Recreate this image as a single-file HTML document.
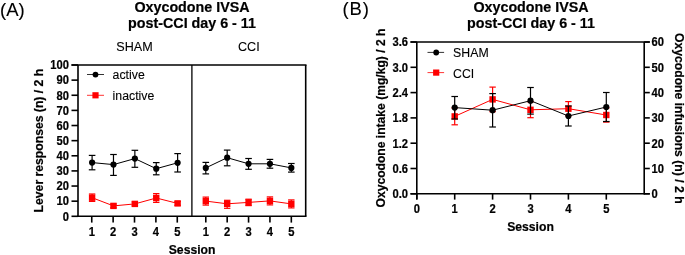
<!DOCTYPE html>
<html><head><meta charset="utf-8"><style>
html,body{margin:0;padding:0;background:#fff;width:685px;height:255px;overflow:hidden}
svg{display:block;will-change:transform}
text{font-family:"Liberation Sans", sans-serif;fill:#000}
</style></head><body>
<svg width="685" height="255" viewBox="0 0 685 255">
<rect width="685" height="255" fill="#fff"/>
<text transform="translate(0.00,15.70)" font-size="18.5" font-weight="normal" text-anchor="start" stroke="#000" stroke-width="0.1" >(A)</text>
<text transform="translate(192.00,11.95)" font-size="14.3" font-weight="bold" text-anchor="middle" stroke="#000" stroke-width="0.2" >Oxycodone IVSA</text>
<text transform="translate(192.00,28.30)" font-size="14.3" font-weight="bold" text-anchor="middle" stroke="#000" stroke-width="0.2" >post-CCI day 6 - 11</text>
<text transform="translate(134.50,51.20)" font-size="12.6" font-weight="normal" text-anchor="middle" stroke="#000" stroke-width="0.1" >SHAM</text>
<text transform="translate(248.80,51.20)" font-size="12.6" font-weight="normal" text-anchor="middle" stroke="#000" stroke-width="0.1" >CCI</text>
<line x1="71.5" y1="65" x2="306.5" y2="65" stroke="#000" stroke-width="1.6"/>
<line x1="78" y1="65" x2="78" y2="217.10000000000002" stroke="#000" stroke-width="1.6"/>
<line x1="305.7" y1="65" x2="305.7" y2="216.3" stroke="#000" stroke-width="1.6"/>
<line x1="77.2" y1="216.3" x2="306.5" y2="216.3" stroke="#000" stroke-width="1.6"/>
<line x1="191.9" y1="65" x2="191.9" y2="216.3" stroke="#000" stroke-width="1.3"/>
<line x1="71.5" y1="216.3" x2="78" y2="216.3" stroke="#000" stroke-width="1.6"/>
<text transform="translate(69.00,220.60) scale(1,1.08)" font-size="11.2" font-weight="bold" text-anchor="end" stroke="#000" stroke-width="0.2" >0</text>
<line x1="71.5" y1="201.17000000000002" x2="78" y2="201.17000000000002" stroke="#000" stroke-width="1.6"/>
<text transform="translate(69.00,205.47) scale(1,1.08)" font-size="11.2" font-weight="bold" text-anchor="end" stroke="#000" stroke-width="0.2" >10</text>
<line x1="71.5" y1="186.04000000000002" x2="78" y2="186.04000000000002" stroke="#000" stroke-width="1.6"/>
<text transform="translate(69.00,190.34) scale(1,1.08)" font-size="11.2" font-weight="bold" text-anchor="end" stroke="#000" stroke-width="0.2" >20</text>
<line x1="71.5" y1="170.91000000000003" x2="78" y2="170.91000000000003" stroke="#000" stroke-width="1.6"/>
<text transform="translate(69.00,175.21) scale(1,1.08)" font-size="11.2" font-weight="bold" text-anchor="end" stroke="#000" stroke-width="0.2" >30</text>
<line x1="71.5" y1="155.78" x2="78" y2="155.78" stroke="#000" stroke-width="1.6"/>
<text transform="translate(69.00,160.08) scale(1,1.08)" font-size="11.2" font-weight="bold" text-anchor="end" stroke="#000" stroke-width="0.2" >40</text>
<line x1="71.5" y1="140.65" x2="78" y2="140.65" stroke="#000" stroke-width="1.6"/>
<text transform="translate(69.00,144.95) scale(1,1.08)" font-size="11.2" font-weight="bold" text-anchor="end" stroke="#000" stroke-width="0.2" >50</text>
<line x1="71.5" y1="125.52000000000001" x2="78" y2="125.52000000000001" stroke="#000" stroke-width="1.6"/>
<text transform="translate(69.00,129.82) scale(1,1.08)" font-size="11.2" font-weight="bold" text-anchor="end" stroke="#000" stroke-width="0.2" >60</text>
<line x1="71.5" y1="110.39000000000001" x2="78" y2="110.39000000000001" stroke="#000" stroke-width="1.6"/>
<text transform="translate(69.00,114.69) scale(1,1.08)" font-size="11.2" font-weight="bold" text-anchor="end" stroke="#000" stroke-width="0.2" >70</text>
<line x1="71.5" y1="95.26" x2="78" y2="95.26" stroke="#000" stroke-width="1.6"/>
<text transform="translate(69.00,99.56) scale(1,1.08)" font-size="11.2" font-weight="bold" text-anchor="end" stroke="#000" stroke-width="0.2" >80</text>
<line x1="71.5" y1="80.13" x2="78" y2="80.13" stroke="#000" stroke-width="1.6"/>
<text transform="translate(69.00,84.43) scale(1,1.08)" font-size="11.2" font-weight="bold" text-anchor="end" stroke="#000" stroke-width="0.2" >90</text>
<line x1="71.5" y1="65.0" x2="78" y2="65.0" stroke="#000" stroke-width="1.6"/>
<text transform="translate(69.00,69.30) scale(1,1.08)" font-size="11.2" font-weight="bold" text-anchor="end" stroke="#000" stroke-width="0.2" >100</text>
<line x1="91.75" y1="216.3" x2="91.75" y2="222.60000000000002" stroke="#000" stroke-width="1.6"/>
<text transform="translate(91.75,236.00) scale(1,1.08)" font-size="11.2" font-weight="bold" text-anchor="middle" stroke="#000" stroke-width="0.2" >1</text>
<line x1="113.13" y1="216.3" x2="113.13" y2="222.60000000000002" stroke="#000" stroke-width="1.6"/>
<text transform="translate(113.13,236.00) scale(1,1.08)" font-size="11.2" font-weight="bold" text-anchor="middle" stroke="#000" stroke-width="0.2" >2</text>
<line x1="134.51" y1="216.3" x2="134.51" y2="222.60000000000002" stroke="#000" stroke-width="1.6"/>
<text transform="translate(134.51,236.00) scale(1,1.08)" font-size="11.2" font-weight="bold" text-anchor="middle" stroke="#000" stroke-width="0.2" >3</text>
<line x1="155.89" y1="216.3" x2="155.89" y2="222.60000000000002" stroke="#000" stroke-width="1.6"/>
<text transform="translate(155.89,236.00) scale(1,1.08)" font-size="11.2" font-weight="bold" text-anchor="middle" stroke="#000" stroke-width="0.2" >4</text>
<line x1="177.26999999999998" y1="216.3" x2="177.26999999999998" y2="222.60000000000002" stroke="#000" stroke-width="1.6"/>
<text transform="translate(177.27,236.00) scale(1,1.08)" font-size="11.2" font-weight="bold" text-anchor="middle" stroke="#000" stroke-width="0.2" >5</text>
<line x1="205.8" y1="216.3" x2="205.8" y2="222.60000000000002" stroke="#000" stroke-width="1.6"/>
<text transform="translate(205.80,236.00) scale(1,1.08)" font-size="11.2" font-weight="bold" text-anchor="middle" stroke="#000" stroke-width="0.2" >1</text>
<line x1="227.18" y1="216.3" x2="227.18" y2="222.60000000000002" stroke="#000" stroke-width="1.6"/>
<text transform="translate(227.18,236.00) scale(1,1.08)" font-size="11.2" font-weight="bold" text-anchor="middle" stroke="#000" stroke-width="0.2" >2</text>
<line x1="248.56" y1="216.3" x2="248.56" y2="222.60000000000002" stroke="#000" stroke-width="1.6"/>
<text transform="translate(248.56,236.00) scale(1,1.08)" font-size="11.2" font-weight="bold" text-anchor="middle" stroke="#000" stroke-width="0.2" >3</text>
<line x1="269.94" y1="216.3" x2="269.94" y2="222.60000000000002" stroke="#000" stroke-width="1.6"/>
<text transform="translate(269.94,236.00) scale(1,1.08)" font-size="11.2" font-weight="bold" text-anchor="middle" stroke="#000" stroke-width="0.2" >4</text>
<line x1="291.32" y1="216.3" x2="291.32" y2="222.60000000000002" stroke="#000" stroke-width="1.6"/>
<text transform="translate(291.32,236.00) scale(1,1.08)" font-size="11.2" font-weight="bold" text-anchor="middle" stroke="#000" stroke-width="0.2" >5</text>
<text transform="translate(192.10,253.50)" font-size="12.2" font-weight="bold" text-anchor="middle" stroke="#000" stroke-width="0.2" >Session</text>
<text transform="translate(42.9,140.6) rotate(-90)" x="0" y="0" font-size="12.2" font-weight="bold" stroke="#000" stroke-width="0.2" text-anchor="middle">Lever responses (n) / 2 h</text>
<line x1="87" y1="74.5" x2="104" y2="74.5" stroke="#000" stroke-width="0.8"/>
<circle cx="95.5" cy="74.6" r="2.9" fill="#000"/>
<text transform="translate(112.60,79.00)" font-size="12.3" font-weight="normal" text-anchor="start" stroke="#000" stroke-width="0.1" >active</text>
<line x1="87" y1="95.3" x2="104" y2="95.3" stroke="#f00" stroke-width="0.8"/>
<rect x="92.4" y="92.2" width="6.2" height="6.2" fill="#f00"/>
<text transform="translate(112.60,100.30)" font-size="12.3" font-weight="normal" text-anchor="start" stroke="#000" stroke-width="0.1" >inactive</text>
<polyline points="92.1,162.6 113.47999999999999,164.6 134.85999999999999,158.6 156.23999999999998,168.7 177.61999999999998,162.8" fill="none" stroke="#000" stroke-width="1.0"/>
<line x1="92.1" y1="155.4" x2="92.1" y2="169.8" stroke="#000" stroke-width="1.2"/>
<line x1="88.8" y1="155.4" x2="95.39999999999999" y2="155.4" stroke="#000" stroke-width="1.2"/>
<line x1="88.8" y1="169.8" x2="95.39999999999999" y2="169.8" stroke="#000" stroke-width="1.2"/>
<line x1="113.47999999999999" y1="154.5" x2="113.47999999999999" y2="175.4" stroke="#000" stroke-width="1.2"/>
<line x1="110.17999999999999" y1="154.5" x2="116.77999999999999" y2="154.5" stroke="#000" stroke-width="1.2"/>
<line x1="110.17999999999999" y1="175.4" x2="116.77999999999999" y2="175.4" stroke="#000" stroke-width="1.2"/>
<line x1="134.85999999999999" y1="150.3" x2="134.85999999999999" y2="167.3" stroke="#000" stroke-width="1.2"/>
<line x1="131.55999999999997" y1="150.3" x2="138.16" y2="150.3" stroke="#000" stroke-width="1.2"/>
<line x1="131.55999999999997" y1="167.3" x2="138.16" y2="167.3" stroke="#000" stroke-width="1.2"/>
<line x1="156.23999999999998" y1="162.6" x2="156.23999999999998" y2="174.8" stroke="#000" stroke-width="1.2"/>
<line x1="152.93999999999997" y1="162.6" x2="159.54" y2="162.6" stroke="#000" stroke-width="1.2"/>
<line x1="152.93999999999997" y1="174.8" x2="159.54" y2="174.8" stroke="#000" stroke-width="1.2"/>
<line x1="177.61999999999998" y1="153.6" x2="177.61999999999998" y2="172" stroke="#000" stroke-width="1.2"/>
<line x1="174.31999999999996" y1="153.6" x2="180.92" y2="153.6" stroke="#000" stroke-width="1.2"/>
<line x1="174.31999999999996" y1="172" x2="180.92" y2="172" stroke="#000" stroke-width="1.2"/>
<circle cx="92.1" cy="162.6" r="3.1" fill="#000"/>
<circle cx="113.47999999999999" cy="164.6" r="3.1" fill="#000"/>
<circle cx="134.85999999999999" cy="158.6" r="3.1" fill="#000"/>
<circle cx="156.23999999999998" cy="168.7" r="3.1" fill="#000"/>
<circle cx="177.61999999999998" cy="162.8" r="3.1" fill="#000"/>
<polyline points="92.1,197.7 113.47999999999999,205.9 134.85999999999999,203.9 156.23999999999998,198.0 177.61999999999998,203.4" fill="none" stroke="#f00" stroke-width="1.0"/>
<line x1="92.1" y1="194.0" x2="92.1" y2="201.4" stroke="#f00" stroke-width="1.2"/>
<line x1="88.89999999999999" y1="194.0" x2="95.3" y2="194.0" stroke="#f00" stroke-width="1.2"/>
<line x1="88.89999999999999" y1="201.4" x2="95.3" y2="201.4" stroke="#f00" stroke-width="1.2"/>
<line x1="113.47999999999999" y1="204.0" x2="113.47999999999999" y2="207.8" stroke="#f00" stroke-width="1.2"/>
<line x1="110.27999999999999" y1="204.0" x2="116.67999999999999" y2="204.0" stroke="#f00" stroke-width="1.2"/>
<line x1="110.27999999999999" y1="207.8" x2="116.67999999999999" y2="207.8" stroke="#f00" stroke-width="1.2"/>
<line x1="134.85999999999999" y1="202.0" x2="134.85999999999999" y2="205.8" stroke="#f00" stroke-width="1.2"/>
<line x1="131.66" y1="202.0" x2="138.05999999999997" y2="202.0" stroke="#f00" stroke-width="1.2"/>
<line x1="131.66" y1="205.8" x2="138.05999999999997" y2="205.8" stroke="#f00" stroke-width="1.2"/>
<line x1="156.23999999999998" y1="193.6" x2="156.23999999999998" y2="202.4" stroke="#f00" stroke-width="1.2"/>
<line x1="153.04" y1="193.6" x2="159.43999999999997" y2="193.6" stroke="#f00" stroke-width="1.2"/>
<line x1="153.04" y1="202.4" x2="159.43999999999997" y2="202.4" stroke="#f00" stroke-width="1.2"/>
<line x1="177.61999999999998" y1="201.5" x2="177.61999999999998" y2="205.3" stroke="#f00" stroke-width="1.2"/>
<line x1="174.42" y1="201.5" x2="180.81999999999996" y2="201.5" stroke="#f00" stroke-width="1.2"/>
<line x1="174.42" y1="205.3" x2="180.81999999999996" y2="205.3" stroke="#f00" stroke-width="1.2"/>
<rect x="88.89999999999999" y="194.5" width="6.4" height="6.4" fill="#f00"/>
<rect x="110.27999999999999" y="202.70000000000002" width="6.4" height="6.4" fill="#f00"/>
<rect x="131.66" y="200.70000000000002" width="6.4" height="6.4" fill="#f00"/>
<rect x="153.04" y="194.8" width="6.4" height="6.4" fill="#f00"/>
<rect x="174.42" y="200.20000000000002" width="6.4" height="6.4" fill="#f00"/>
<polyline points="205.8,167.9 227.18,157.7 248.56,163.8 269.94,163.8 291.32,167.9" fill="none" stroke="#000" stroke-width="1.0"/>
<line x1="205.8" y1="162.4" x2="205.8" y2="173.9" stroke="#000" stroke-width="1.2"/>
<line x1="202.5" y1="162.4" x2="209.10000000000002" y2="162.4" stroke="#000" stroke-width="1.2"/>
<line x1="202.5" y1="173.9" x2="209.10000000000002" y2="173.9" stroke="#000" stroke-width="1.2"/>
<line x1="227.18" y1="150.1" x2="227.18" y2="165.8" stroke="#000" stroke-width="1.2"/>
<line x1="223.88" y1="150.1" x2="230.48000000000002" y2="150.1" stroke="#000" stroke-width="1.2"/>
<line x1="223.88" y1="165.8" x2="230.48000000000002" y2="165.8" stroke="#000" stroke-width="1.2"/>
<line x1="248.56" y1="158.5" x2="248.56" y2="169.3" stroke="#000" stroke-width="1.2"/>
<line x1="245.26" y1="158.5" x2="251.86" y2="158.5" stroke="#000" stroke-width="1.2"/>
<line x1="245.26" y1="169.3" x2="251.86" y2="169.3" stroke="#000" stroke-width="1.2"/>
<line x1="269.94" y1="159.4" x2="269.94" y2="168.2" stroke="#000" stroke-width="1.2"/>
<line x1="266.64" y1="159.4" x2="273.24" y2="159.4" stroke="#000" stroke-width="1.2"/>
<line x1="266.64" y1="168.2" x2="273.24" y2="168.2" stroke="#000" stroke-width="1.2"/>
<line x1="291.32" y1="163.5" x2="291.32" y2="172.1" stroke="#000" stroke-width="1.2"/>
<line x1="288.02" y1="163.5" x2="294.62" y2="163.5" stroke="#000" stroke-width="1.2"/>
<line x1="288.02" y1="172.1" x2="294.62" y2="172.1" stroke="#000" stroke-width="1.2"/>
<circle cx="205.8" cy="167.9" r="3.1" fill="#000"/>
<circle cx="227.18" cy="157.7" r="3.1" fill="#000"/>
<circle cx="248.56" cy="163.8" r="3.1" fill="#000"/>
<circle cx="269.94" cy="163.8" r="3.1" fill="#000"/>
<circle cx="291.32" cy="167.9" r="3.1" fill="#000"/>
<polyline points="205.8,201.1 227.18,203.8 248.56,202.4 269.94,200.9 291.32,203.9" fill="none" stroke="#f00" stroke-width="1.0"/>
<line x1="205.8" y1="197.1" x2="205.8" y2="205.1" stroke="#f00" stroke-width="1.2"/>
<line x1="202.60000000000002" y1="197.1" x2="209.0" y2="197.1" stroke="#f00" stroke-width="1.2"/>
<line x1="202.60000000000002" y1="205.1" x2="209.0" y2="205.1" stroke="#f00" stroke-width="1.2"/>
<line x1="227.18" y1="200.3" x2="227.18" y2="208.3" stroke="#f00" stroke-width="1.2"/>
<line x1="223.98000000000002" y1="200.3" x2="230.38" y2="200.3" stroke="#f00" stroke-width="1.2"/>
<line x1="223.98000000000002" y1="208.3" x2="230.38" y2="208.3" stroke="#f00" stroke-width="1.2"/>
<line x1="248.56" y1="199.2" x2="248.56" y2="205.6" stroke="#f00" stroke-width="1.2"/>
<line x1="245.36" y1="199.2" x2="251.76" y2="199.2" stroke="#f00" stroke-width="1.2"/>
<line x1="245.36" y1="205.6" x2="251.76" y2="205.6" stroke="#f00" stroke-width="1.2"/>
<line x1="269.94" y1="196.9" x2="269.94" y2="204.9" stroke="#f00" stroke-width="1.2"/>
<line x1="266.74" y1="196.9" x2="273.14" y2="196.9" stroke="#f00" stroke-width="1.2"/>
<line x1="266.74" y1="204.9" x2="273.14" y2="204.9" stroke="#f00" stroke-width="1.2"/>
<line x1="291.32" y1="199.9" x2="291.32" y2="207.9" stroke="#f00" stroke-width="1.2"/>
<line x1="288.12" y1="199.9" x2="294.52" y2="199.9" stroke="#f00" stroke-width="1.2"/>
<line x1="288.12" y1="207.9" x2="294.52" y2="207.9" stroke="#f00" stroke-width="1.2"/>
<rect x="202.60000000000002" y="197.9" width="6.4" height="6.4" fill="#f00"/>
<rect x="223.98000000000002" y="200.60000000000002" width="6.4" height="6.4" fill="#f00"/>
<rect x="245.36" y="199.20000000000002" width="6.4" height="6.4" fill="#f00"/>
<rect x="266.74" y="197.70000000000002" width="6.4" height="6.4" fill="#f00"/>
<rect x="288.12" y="200.70000000000002" width="6.4" height="6.4" fill="#f00"/>
<text transform="translate(342.60,15.20)" font-size="18.5" font-weight="normal" text-anchor="start" stroke="#000" stroke-width="0.1" letter-spacing="0.8">(B)</text>
<text transform="translate(531.00,11.95)" font-size="14.3" font-weight="bold" text-anchor="middle" stroke="#000" stroke-width="0.2" >Oxycodone IVSA</text>
<text transform="translate(531.00,28.30)" font-size="14.3" font-weight="bold" text-anchor="middle" stroke="#000" stroke-width="0.2" >post-CCI day 6 - 11</text>
<line x1="410.5" y1="42" x2="649.8000000000001" y2="42" stroke="#000" stroke-width="1.6"/>
<line x1="416.8" y1="42" x2="416.8" y2="199.60000000000002" stroke="#000" stroke-width="1.6"/>
<line x1="644.2" y1="42" x2="644.2" y2="194.60000000000002" stroke="#000" stroke-width="1.6"/>
<line x1="410.5" y1="193.8" x2="649.8000000000001" y2="193.8" stroke="#000" stroke-width="1.6"/>
<line x1="410.5" y1="193.8" x2="416.8" y2="193.8" stroke="#000" stroke-width="1.6"/>
<line x1="644.2" y1="193.8" x2="649.8000000000001" y2="193.8" stroke="#000" stroke-width="1.6"/>
<text transform="translate(408.10,198.20) scale(1,1.08)" font-size="11.2" font-weight="bold" text-anchor="end" stroke="#000" stroke-width="0.2" >0.0</text>
<text transform="translate(651.60,198.10) scale(1,1.08)" font-size="11.2" font-weight="bold" text-anchor="start" stroke="#000" stroke-width="0.2" >0</text>
<line x1="410.5" y1="168.5" x2="416.8" y2="168.5" stroke="#000" stroke-width="1.6"/>
<line x1="644.2" y1="168.5" x2="649.8000000000001" y2="168.5" stroke="#000" stroke-width="1.6"/>
<text transform="translate(408.10,172.90) scale(1,1.08)" font-size="11.2" font-weight="bold" text-anchor="end" stroke="#000" stroke-width="0.2" >0.6</text>
<text transform="translate(651.60,172.80) scale(1,1.08)" font-size="11.2" font-weight="bold" text-anchor="start" stroke="#000" stroke-width="0.2" >10</text>
<line x1="410.5" y1="143.20000000000002" x2="416.8" y2="143.20000000000002" stroke="#000" stroke-width="1.6"/>
<line x1="644.2" y1="143.20000000000002" x2="649.8000000000001" y2="143.20000000000002" stroke="#000" stroke-width="1.6"/>
<text transform="translate(408.10,147.60) scale(1,1.08)" font-size="11.2" font-weight="bold" text-anchor="end" stroke="#000" stroke-width="0.2" >1.2</text>
<text transform="translate(651.60,147.50) scale(1,1.08)" font-size="11.2" font-weight="bold" text-anchor="start" stroke="#000" stroke-width="0.2" >20</text>
<line x1="410.5" y1="117.9" x2="416.8" y2="117.9" stroke="#000" stroke-width="1.6"/>
<line x1="644.2" y1="117.9" x2="649.8000000000001" y2="117.9" stroke="#000" stroke-width="1.6"/>
<text transform="translate(408.10,122.30) scale(1,1.08)" font-size="11.2" font-weight="bold" text-anchor="end" stroke="#000" stroke-width="0.2" >1.8</text>
<text transform="translate(651.60,122.20) scale(1,1.08)" font-size="11.2" font-weight="bold" text-anchor="start" stroke="#000" stroke-width="0.2" >30</text>
<line x1="410.5" y1="92.60000000000001" x2="416.8" y2="92.60000000000001" stroke="#000" stroke-width="1.6"/>
<line x1="644.2" y1="92.60000000000001" x2="649.8000000000001" y2="92.60000000000001" stroke="#000" stroke-width="1.6"/>
<text transform="translate(408.10,97.00) scale(1,1.08)" font-size="11.2" font-weight="bold" text-anchor="end" stroke="#000" stroke-width="0.2" >2.4</text>
<text transform="translate(651.60,96.90) scale(1,1.08)" font-size="11.2" font-weight="bold" text-anchor="start" stroke="#000" stroke-width="0.2" >40</text>
<line x1="410.5" y1="67.30000000000001" x2="416.8" y2="67.30000000000001" stroke="#000" stroke-width="1.6"/>
<line x1="644.2" y1="67.30000000000001" x2="649.8000000000001" y2="67.30000000000001" stroke="#000" stroke-width="1.6"/>
<text transform="translate(408.10,71.70) scale(1,1.08)" font-size="11.2" font-weight="bold" text-anchor="end" stroke="#000" stroke-width="0.2" >3.0</text>
<text transform="translate(651.60,71.60) scale(1,1.08)" font-size="11.2" font-weight="bold" text-anchor="start" stroke="#000" stroke-width="0.2" >50</text>
<line x1="410.5" y1="42.0" x2="416.8" y2="42.0" stroke="#000" stroke-width="1.6"/>
<line x1="644.2" y1="42.0" x2="649.8000000000001" y2="42.0" stroke="#000" stroke-width="1.6"/>
<text transform="translate(408.10,46.40) scale(1,1.08)" font-size="11.2" font-weight="bold" text-anchor="end" stroke="#000" stroke-width="0.2" >3.6</text>
<text transform="translate(651.60,46.30) scale(1,1.08)" font-size="11.2" font-weight="bold" text-anchor="start" stroke="#000" stroke-width="0.2" >60</text>
<line x1="416.8" y1="193.8" x2="416.8" y2="199.60000000000002" stroke="#000" stroke-width="1.6"/>
<text transform="translate(416.80,213.00) scale(1,1.08)" font-size="11.2" font-weight="bold" text-anchor="middle" stroke="#000" stroke-width="0.2" >0</text>
<line x1="454.70000000000005" y1="193.8" x2="454.70000000000005" y2="199.60000000000002" stroke="#000" stroke-width="1.6"/>
<text transform="translate(454.70,213.00) scale(1,1.08)" font-size="11.2" font-weight="bold" text-anchor="middle" stroke="#000" stroke-width="0.2" >1</text>
<line x1="492.6" y1="193.8" x2="492.6" y2="199.60000000000002" stroke="#000" stroke-width="1.6"/>
<text transform="translate(492.60,213.00) scale(1,1.08)" font-size="11.2" font-weight="bold" text-anchor="middle" stroke="#000" stroke-width="0.2" >2</text>
<line x1="530.5" y1="193.8" x2="530.5" y2="199.60000000000002" stroke="#000" stroke-width="1.6"/>
<text transform="translate(530.50,213.00) scale(1,1.08)" font-size="11.2" font-weight="bold" text-anchor="middle" stroke="#000" stroke-width="0.2" >3</text>
<line x1="568.4000000000001" y1="193.8" x2="568.4000000000001" y2="199.60000000000002" stroke="#000" stroke-width="1.6"/>
<text transform="translate(568.40,213.00) scale(1,1.08)" font-size="11.2" font-weight="bold" text-anchor="middle" stroke="#000" stroke-width="0.2" >4</text>
<line x1="606.3000000000001" y1="193.8" x2="606.3000000000001" y2="199.60000000000002" stroke="#000" stroke-width="1.6"/>
<text transform="translate(606.30,213.00) scale(1,1.08)" font-size="11.2" font-weight="bold" text-anchor="middle" stroke="#000" stroke-width="0.2" >5</text>
<text transform="translate(530.50,231.00)" font-size="12.2" font-weight="bold" text-anchor="middle" stroke="#000" stroke-width="0.2" >Session</text>
<text transform="translate(385.1,118.0) rotate(-90)" x="0" y="0" font-size="12.1" font-weight="bold" stroke="#000" stroke-width="0.2" text-anchor="middle">Oxycodone intake (mg/kg) / 2 h</text>
<text transform="translate(674.6,118.25) rotate(90)" x="0" y="0" font-size="12.2" font-weight="bold" stroke="#000" stroke-width="0.2" text-anchor="middle">Oxycodone infusions (n) / 2 h</text>
<line x1="427.5" y1="52.4" x2="444.1" y2="52.4" stroke="#000" stroke-width="0.8"/>
<circle cx="436.2" cy="52.5" r="2.9" fill="#000"/>
<text transform="translate(453.10,57.40)" font-size="12.3" font-weight="normal" text-anchor="start" stroke="#000" stroke-width="0.1" >SHAM</text>
<line x1="427.5" y1="72.6" x2="444.1" y2="72.6" stroke="#f00" stroke-width="0.8"/>
<rect x="433.1" y="69.5" width="6.2" height="6.2" fill="#f00"/>
<text transform="translate(453.10,77.60)" font-size="12.3" font-weight="normal" text-anchor="start" stroke="#000" stroke-width="0.1" >CCI</text>
<polyline points="454.70000000000005,116.4 492.6,99.4 530.5,109.8 568.4000000000001,108.7 606.3000000000001,115" fill="none" stroke="#f00" stroke-width="1.0"/>
<line x1="454.70000000000005" y1="108.0" x2="454.70000000000005" y2="124.8" stroke="#f00" stroke-width="1.2"/>
<line x1="451.50000000000006" y1="108.0" x2="457.90000000000003" y2="108.0" stroke="#f00" stroke-width="1.2"/>
<line x1="451.50000000000006" y1="124.8" x2="457.90000000000003" y2="124.8" stroke="#f00" stroke-width="1.2"/>
<line x1="492.6" y1="87.1" x2="492.6" y2="111.7" stroke="#f00" stroke-width="1.2"/>
<line x1="489.40000000000003" y1="87.1" x2="495.8" y2="87.1" stroke="#f00" stroke-width="1.2"/>
<line x1="489.40000000000003" y1="111.7" x2="495.8" y2="111.7" stroke="#f00" stroke-width="1.2"/>
<line x1="530.5" y1="101.9" x2="530.5" y2="117.7" stroke="#f00" stroke-width="1.2"/>
<line x1="527.3" y1="101.9" x2="533.7" y2="101.9" stroke="#f00" stroke-width="1.2"/>
<line x1="527.3" y1="117.7" x2="533.7" y2="117.7" stroke="#f00" stroke-width="1.2"/>
<line x1="568.4000000000001" y1="101.6" x2="568.4000000000001" y2="115.8" stroke="#f00" stroke-width="1.2"/>
<line x1="565.2" y1="101.6" x2="571.6000000000001" y2="101.6" stroke="#f00" stroke-width="1.2"/>
<line x1="565.2" y1="115.8" x2="571.6000000000001" y2="115.8" stroke="#f00" stroke-width="1.2"/>
<line x1="606.3000000000001" y1="107.9" x2="606.3000000000001" y2="122.1" stroke="#f00" stroke-width="1.2"/>
<line x1="603.1" y1="107.9" x2="609.5000000000001" y2="107.9" stroke="#f00" stroke-width="1.2"/>
<line x1="603.1" y1="122.1" x2="609.5000000000001" y2="122.1" stroke="#f00" stroke-width="1.2"/>
<rect x="451.50000000000006" y="113.2" width="6.4" height="6.4" fill="#f00"/>
<rect x="489.40000000000003" y="96.2" width="6.4" height="6.4" fill="#f00"/>
<rect x="527.3" y="106.6" width="6.4" height="6.4" fill="#f00"/>
<rect x="565.2" y="105.5" width="6.4" height="6.4" fill="#f00"/>
<rect x="603.1" y="111.8" width="6.4" height="6.4" fill="#f00"/>
<polyline points="454.70000000000005,107.6 492.6,110.2 530.5,100.7 568.4000000000001,116 606.3000000000001,107" fill="none" stroke="#000" stroke-width="1.0"/>
<line x1="454.70000000000005" y1="96.5" x2="454.70000000000005" y2="119.0" stroke="#000" stroke-width="1.2"/>
<line x1="451.40000000000003" y1="96.5" x2="458.00000000000006" y2="96.5" stroke="#000" stroke-width="1.2"/>
<line x1="451.40000000000003" y1="119.0" x2="458.00000000000006" y2="119.0" stroke="#000" stroke-width="1.2"/>
<line x1="492.6" y1="93.6" x2="492.6" y2="127" stroke="#000" stroke-width="1.2"/>
<line x1="489.3" y1="93.6" x2="495.90000000000003" y2="93.6" stroke="#000" stroke-width="1.2"/>
<line x1="489.3" y1="127" x2="495.90000000000003" y2="127" stroke="#000" stroke-width="1.2"/>
<line x1="530.5" y1="87.5" x2="530.5" y2="114.1" stroke="#000" stroke-width="1.2"/>
<line x1="527.2" y1="87.5" x2="533.8" y2="87.5" stroke="#000" stroke-width="1.2"/>
<line x1="527.2" y1="114.1" x2="533.8" y2="114.1" stroke="#000" stroke-width="1.2"/>
<line x1="568.4000000000001" y1="106" x2="568.4000000000001" y2="126" stroke="#000" stroke-width="1.2"/>
<line x1="565.1000000000001" y1="106" x2="571.7" y2="106" stroke="#000" stroke-width="1.2"/>
<line x1="565.1000000000001" y1="126" x2="571.7" y2="126" stroke="#000" stroke-width="1.2"/>
<line x1="606.3000000000001" y1="92.5" x2="606.3000000000001" y2="121.5" stroke="#000" stroke-width="1.2"/>
<line x1="603.0000000000001" y1="92.5" x2="609.6" y2="92.5" stroke="#000" stroke-width="1.2"/>
<line x1="603.0000000000001" y1="121.5" x2="609.6" y2="121.5" stroke="#000" stroke-width="1.2"/>
<circle cx="454.70000000000005" cy="107.6" r="3.1" fill="#000"/>
<circle cx="492.6" cy="110.2" r="3.1" fill="#000"/>
<circle cx="530.5" cy="100.7" r="3.1" fill="#000"/>
<circle cx="568.4000000000001" cy="116" r="3.1" fill="#000"/>
<circle cx="606.3000000000001" cy="107" r="3.1" fill="#000"/>
</svg></body></html>
